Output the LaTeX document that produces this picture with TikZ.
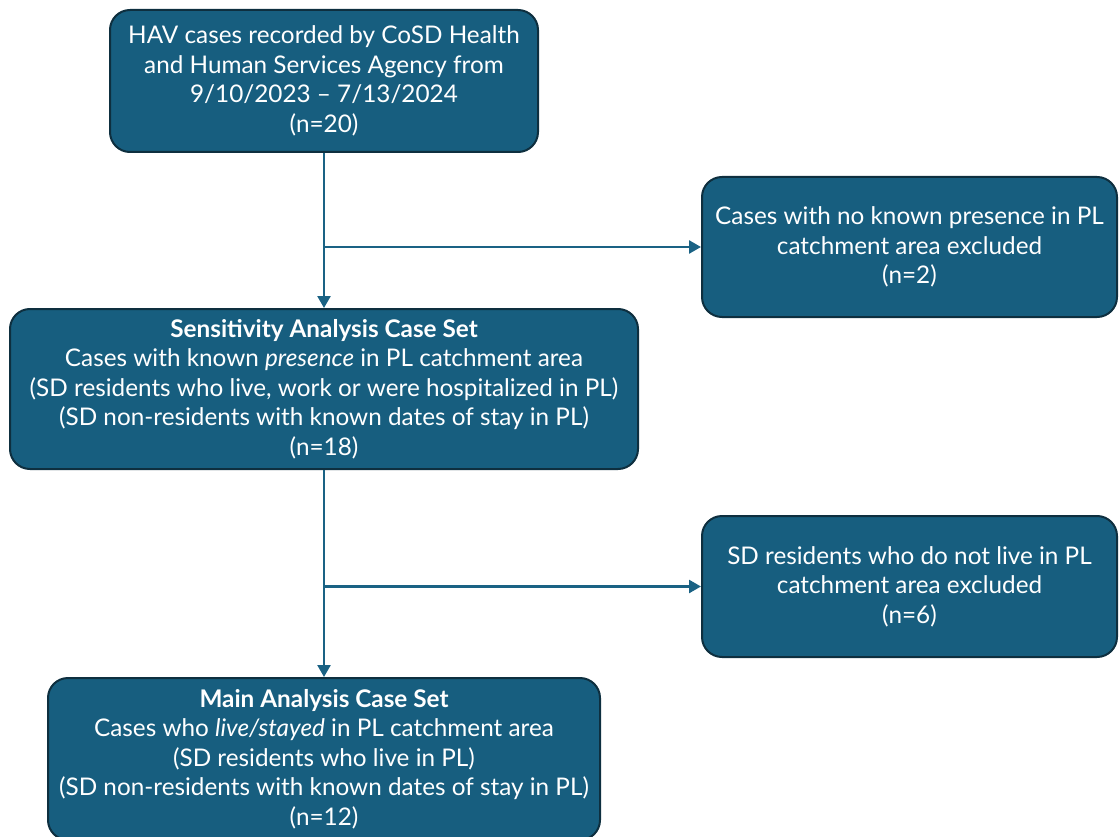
\documentclass[tikz,border=0pt]{standalone}
\usepackage{fontspec}
\setmainfont{Lato}
\usetikzlibrary{arrows.meta}
\definecolor{boxfill}{HTML}{175E7F}
\definecolor{boxline}{HTML}{0E2F3F}
\definecolor{arrowc}{HTML}{1A6284}
\tikzset{
  box/.style={draw=boxline, line width=2pt, fill=boxfill, rounded corners=20pt,
    text=white, align=center, inner sep=0pt,
    font=\fontsize{24.3}{29.5}\selectfont},
  arr/.style={draw=arrowc, line width=2.5pt, -{Triangle[length=12pt,width=13pt]}}
}
\begin{document}
\begin{tikzpicture}[x=1pt,y=-1pt]
\useasboundingbox (0,0) rectangle (1119,837);
\node[box, minimum width=428pt, minimum height=142pt] (b1) at (324,81)
  {HAV cases recorded by CoSD Health\\and Human Services Agency from\\9/10/2023 -- 7/13/2024\\(n=20)};
\node[box, minimum width=415pt, minimum height=140pt] (b2) at (909.5,247)
  {Cases with no known presence in PL\\catchment area excluded\\(n=2)};
\node[box, minimum width=628pt, minimum height=160pt] (b3) at (324,389)
  {\textbf{Sensitivity Analysis Case Set}\\Cases with known \textit{presence} in PL catchment area\\(SD residents who live, work or were hospitalized in PL)\\(SD non-residents with known dates of stay in PL)\\(n=18)};
\node[box, minimum width=415pt, minimum height=141pt] (b4) at (909.5,586.5)
  {SD residents who do not live in PL\\catchment area excluded\\(n=6)};
\node[box, minimum width=552pt, minimum height=162pt] (b5) at (324,759)
  {\textbf{Main Analysis Case Set}\\Cases who \textit{live/stayed} in PL catchment area\\(SD residents who live in PL)\\(SD non-residents with known dates of stay in PL)\\(n=12)};
\draw[arr] (b1.south) -- (b3.north);
\draw[arr] (b1.south |- b2.west) -- (b2.west);
\draw[arr] (b3.south) -- (b5.north);
\draw[arr] (b3.south |- b4.west) -- (b4.west);
\end{tikzpicture}
\end{document}
